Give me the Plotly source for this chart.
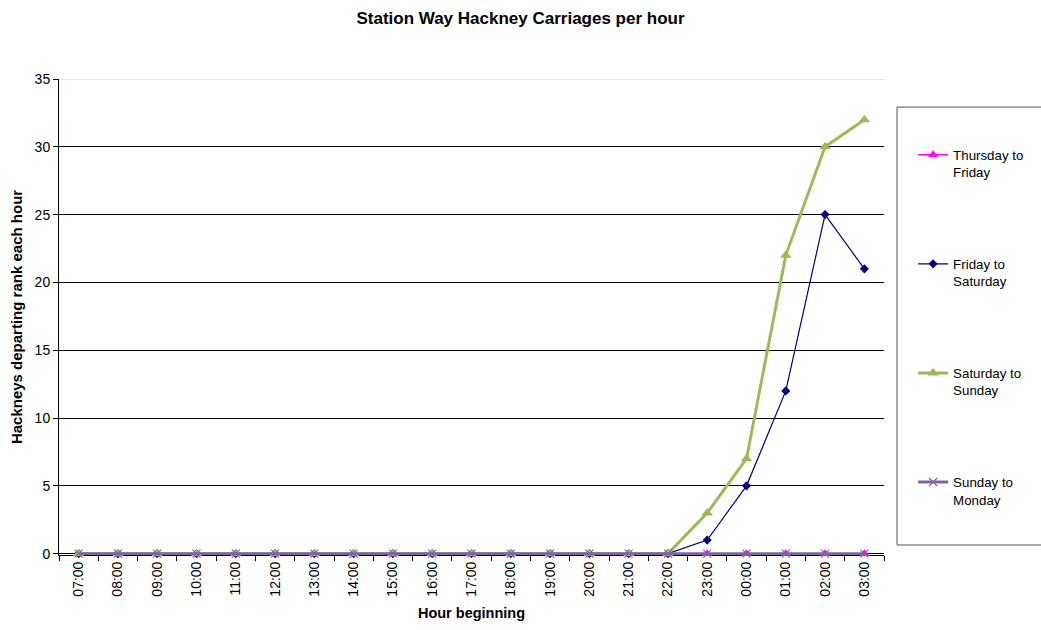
import plotly.graph_objects as go

hours = ["07:00", "08:00", "09:00", "10:00", "11:00", "12:00", "13:00", "14:00",
         "15:00", "16:00", "17:00", "18:00", "19:00", "20:00", "21:00", "22:00",
         "23:00", "00:00", "01:00", "02:00", "03:00"]

thu_fri = [0] * 21
fri_sat = [0, 0, 0, 0, 0, 0, 0, 0, 0, 0, 0, 0, 0, 0, 0, 0, 1, 5, 12, 25, 21]
sat_sun = [0, 0, 0, 0, 0, 0, 0, 0, 0, 0, 0, 0, 0, 0, 0, 0, 3, 7, 22, 30, 32]
sun_mon = [0] * 21

FONT = "Liberation Sans, Arial, sans-serif"

fig = go.Figure()

fig.add_trace(go.Scatter(
    x=hours, y=thu_fri, name="Thursday to<br>Friday", mode="lines+markers",
    line=dict(color="#FF00FF", width=1.5),
    marker=dict(symbol="triangle-up", size=9, color="#FF00FF"),
    legendgroup="a", cliponaxis=False,
))
fig.add_trace(go.Scatter(
    x=hours, y=fri_sat, name="Friday to<br>Saturday", mode="lines+markers",
    line=dict(color="#000080", width=1.2),
    marker=dict(symbol="diamond", size=7, color="#000080"),
    legendgroup="b", cliponaxis=False,
))
fig.add_trace(go.Scatter(
    x=hours, y=sat_sun, name="Saturday to<br>Sunday", mode="lines+markers",
    line=dict(color="#9BBB59", width=3),
    marker=dict(symbol="triangle-up", size=10, color="#9BBB59"),
    legendgroup="c", cliponaxis=False,
))
fig.add_trace(go.Scatter(
    x=hours, y=sun_mon, name="Sunday to<br>Monday", mode="lines+markers",
    line=dict(color="#8064A2", width=3),
    marker=dict(symbol="x-thin", size=8, color="#8064A2",
                line=dict(color="#8064A2", width=1.2)),
    legendgroup="d", cliponaxis=False,
))

fig.update_layout(
    width=1041, height=630,
    margin=dict(l=59, r=157, t=79, b=75),
    paper_bgcolor="white", plot_bgcolor="white",
    font=dict(family=FONT, size=14, color="black"),
    title=dict(text="<b>Station Way Hackney Carriages per hour</b>",
               x=0.5, xanchor="center", y=0.971, yanchor="middle",
               font=dict(size=17, family=FONT)),
    showlegend=True,
    legend=dict(
        x=1.0353, xanchor="left", y=0.8726, yanchor="top",
        bgcolor="rgba(0,0,0,0)", borderwidth=0, valign="top",
        tracegroupgap=71.5, itemwidth=30,
        font=dict(size=13.3, family=FONT),
    ),
    xaxis=dict(
        type="category", categoryorder="array", categoryarray=hours,
        range=[-0.5, 20.5],
        tickangle=-90, tickson="boundaries", ticks="outside", ticklen=5,
        tickcolor="black", showline=True, linecolor="black", linewidth=1,
        showgrid=False, zeroline=False, layer="below traces",
        title=dict(text="<b>Hour beginning</b>", font=dict(size=14.5), standoff=12),
        tickfont=dict(size=14),
    ),
    yaxis=dict(
        range=[-0.1, 35], tickvals=[0, 5, 10, 15, 20, 25, 30, 35],
        ticks="outside", ticklen=5, tickcolor="black",
        showline=True, linecolor="black", linewidth=1,
        showgrid=True, gridcolor="black", gridwidth=1, zeroline=False,
        layer="below traces",
        title=dict(text="<b>Hackneys departing rank each hour</b>",
                   font=dict(size=15), standoff=8),
        tickfont=dict(size=14),
    ),
    shapes=[
        dict(type="line", xref="paper", yref="y", x0=0, x1=1, y0=35, y1=35,
             line=dict(color="#C8C8C8", width=1), layer="above"),
        dict(type="rect", xref="paper", yref="paper",
             x0=1.0158, x1=1.3, y0=0.021, y1=0.941,
             line=dict(color="#555555", width=1), fillcolor="rgba(0,0,0,0)"),
    ],
)

fig.write_html("out.html")
